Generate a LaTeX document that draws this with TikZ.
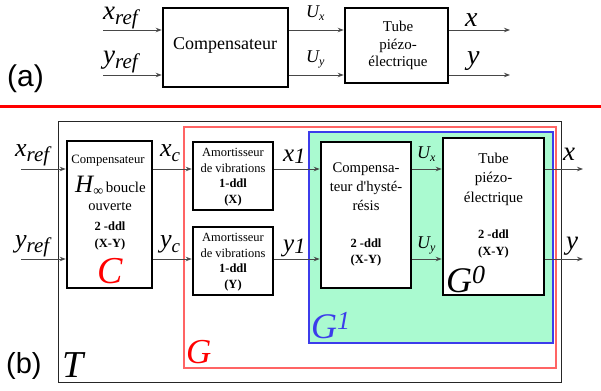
\documentclass[tikz,border=0pt]{standalone}
\usepackage{fontspec}
\setmainfont{Liberation Serif}
\newfontfamily\lsans{Liberation Sans}
\usetikzlibrary{arrows.meta}
\newcommand\fz[2]{\fontsize{#1pt}{#2pt}\selectfont}
\definecolor{mint}{RGB}{170,250,208}
\definecolor{gred}{RGB}{255,100,100}
\definecolor{gblue}{RGB}{60,60,235}
\begin{document}
\begin{tikzpicture}[x=1pt,y=-1pt,
  blk/.style={draw, line width=2.6pt, fill=white, inner sep=0pt},
  sig/.style={draw=black!72, line width=0.9pt, -{Stealth[length=6pt,width=4.5pt]}},
  lab/.style={inner sep=0pt, anchor=base},
  lbw/.style={inner sep=0pt, anchor=base west},
  mtxt/.style={inner sep=0pt, anchor=base, align=center}]
\useasboundingbox (0,0) rectangle (601,390);

% ---------------- (a) ----------------
\node[blk, minimum width=125pt, minimum height=79pt] (ca) at (225.5,47.5) {};
\node[blk, minimum width=103pt, minimum height=75pt] (ta) at (396.5,45.5) {};
\node[lab] (catxt) at (225,50) {\fz{18}{18}Compensateur};
\node[mtxt, font=\fz{15}{17.5}] (tatxt) at (398,67) {Tube\\piézo-\\électrique};

\coordinate (xa0) at (103,30);
\coordinate (ya0) at (103,75);
\coordinate (xa1) at (510,30);
\coordinate (ya1) at (510,75);
\draw[sig] (xa0) -- (xa0 -| ca.west);
\draw[sig] (ya0) -- (ya0 -| ca.west);
\draw[sig] (xa0 -| ca.east) -- (xa0 -| ta.west);
\draw[sig] (ya0 -| ca.east) -- (ya0 -| ta.west);
\draw[sig] (xa0 -| ta.east) -- (xa1);
\draw[sig] (ya0 -| ta.east) -- (ya1);

\node[lbw] (lxra) at (103,20) {\itshape\fz{27}{27}x\raisebox{-5pt}{\fz{21}{21}ref}};
\node[lbw] (lyra) at (103,64) {\itshape\fz{27}{27}y\raisebox{-5pt}{\fz{21}{21}ref}};
\node[lbw] (luxa) at (306,18) {\itshape\fz{18}{18}U\raisebox{-3pt}{\fz{12}{12}x}};
\node[lbw] (luya) at (306,63) {\itshape\fz{18}{18}U\raisebox{-3pt}{\fz{12}{12}y}};
\node[lbw] (lxa) at (465,27) {\itshape\fz{28}{28}x};
\node[lbw] (lya) at (467,65) {\itshape\fz{28}{28}y};
\node[lbw] (la) at (7,87) {\lsans\fz{30}{30}(a)};

\coordinate (rl0) at (0,107);
\coordinate (rl1) at (601,107);
\draw[red, line width=3pt] (rl0) -- (rl1);

% ---------------- (b) ----------------
\draw[black!85, line width=1pt] (58,122) rectangle (561,382);
\draw[gred, line width=1.2pt] (184,127) rectangle (556,368);
\draw[gblue, line width=1.2pt, fill=mint] (309,132) rectangle (553,343);

\node[blk, minimum width=85pt, minimum height=147pt] (cb) at (109.5,214.5) {};
\node[blk, minimum width=80pt, minimum height=68pt] (ax) at (233,176) {};
\node[blk, minimum width=80pt, minimum height=68pt] (ay) at (233,261) {};
\node[blk, minimum width=90pt, minimum height=146pt] (hy) at (366,215) {};
\node[blk, minimum width=101pt, minimum height=157pt] (tb) at (493.5,216.5) {};

% texts in C
\node[lab] (c1) at (108,163) {\fz{12.7}{12.7}Compensateur};
\node[lab] (c2) at (110.5,192) {\itshape\fz{25}{25}H\raisebox{-3pt}{\upshape\fz{14}{14}∞}\upshape\fz{15}{15}\,boucle};
\node[lab] (c3) at (110,210) {\fz{14.5}{14.5}ouverte};
\node[mtxt, font=\bfseries\fz{12.5}{17}] (c4) at (110,247) {2 -ddl\\(X-Y)};
\node[lab] (c5) at (110,283) {\itshape\fz{38}{38}\textcolor{red}{C}};

% amortisseurs
\node[mtxt, font=\fz{12.5}{15.4}] (axt) at (233,203) {Amortisseur\\de vibrations\\\textbf{1-ddl}\\\textbf{(X)}};
\node[mtxt, font=\fz{12.5}{15.4}] (ayt) at (233,288) {Amortisseur\\de vibrations\\\textbf{1-ddl}\\\textbf{(Y)}};

% hysteresis
\node[mtxt, font=\fz{14.7}{19}] (hyt) at (366,210) {Compensa-\\teur d\textquotesingle hysté-\\résis};
\node[mtxt, font=\bfseries\fz{12.5}{16}] (hyd) at (366,263) {2 -ddl\\(X-Y)};

% tube
\node[mtxt, font=\fz{15}{19.5}] (tbt) at (493.5,202) {Tube\\piézo-\\électrique};
\node[mtxt, font=\bfseries\fz{12.5}{17}] (tbd) at (493.5,255) {2 -ddl\\(X-Y)};
\node[lbw] (g0) at (446,292) {\itshape\fz{36}{36}G\raisebox{9pt}{\fz{26}{26}0}};

% signals
\coordinate (xb0) at (21,169);
\coordinate (yb0) at (21,259);
\coordinate (xb1) at (583,169);
\coordinate (yb1) at (583,259);
\draw[sig] (xb0) -- (xb0 -| cb.west);
\draw[sig] (yb0) -- (yb0 -| cb.west);
\draw[sig] (xb0 -| cb.east) -- (xb0 -| ax.west);
\draw[sig] (yb0 -| cb.east) -- (yb0 -| ay.west);
\draw[sig] (xb0 -| ax.east) -- (xb0 -| hy.west);
\draw[sig] (yb0 -| ay.east) -- (yb0 -| hy.west);
\draw[sig] (xb0 -| hy.east) -- (xb0 -| tb.west);
\draw[sig] (yb0 -| hy.east) -- (yb0 -| tb.west);
\draw[sig] (xb0 -| tb.east) -- (xb1);
\draw[sig] (yb0 -| tb.east) -- (yb1);

\node[lbw] (lxrb) at (15,157) {\itshape\fz{26}{26}x\raisebox{-5pt}{\fz{21}{21}ref}};
\node[lbw] (lyrb) at (15,247) {\itshape\fz{26}{26}y\raisebox{-5pt}{\fz{21}{21}ref}};
\node[lbw] (lxc) at (160,157) {\itshape\fz{26}{26}x\raisebox{-5pt}{\fz{19}{19}c}};
\node[lbw] (lyc) at (160,247) {\itshape\fz{26}{26}y\raisebox{-5pt}{\fz{19}{19}c}};
\node[lbw] (lx1) at (283,161) {\itshape\fz{25}{25}x\raisebox{-2pt}{\fz{22}{22}1}};
\node[lbw] (ly1) at (283,251) {\itshape\fz{25}{25}y\raisebox{-2pt}{\fz{22}{22}1}};
\node[lbw] (lux) at (417,158) {\itshape\fz{18}{18}U\raisebox{-3pt}{\fz{12}{12}x}};
\node[lbw] (luy) at (417,248) {\itshape\fz{18}{18}U\raisebox{-3pt}{\fz{12}{12}y}};
\node[lbw] (lxb) at (563,160) {\itshape\fz{27}{27}x};
\node[lbw] (lyb) at (566,249) {\itshape\fz{27}{27}y};

\node[lbw] (lG) at (186,363) {\itshape\fz{35}{35}\textcolor{red}{G}};
\node[lbw] (lG1) at (311,338) {\itshape\fz{36}{36}\textcolor{gblue}{G\raisebox{9pt}{\fz{26}{26}1}}};
\node[lbw] (lT) at (62,377) {\itshape\fz{38}{38}T};
\node[lbw] (lb) at (6,373) {\lsans\fz{29}{29}(b)};
\end{tikzpicture}
\end{document}
